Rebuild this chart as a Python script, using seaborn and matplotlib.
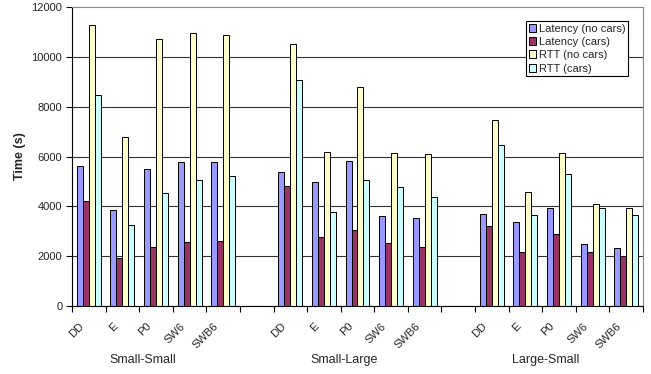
#grouped bar chart: latency and RTT per protocol, three scenarios
import numpy as np
import pandas as pd
import matplotlib
matplotlib.use("Agg")
import matplotlib.pyplot as plt
import seaborn as sns

# data
groups = ["Small-Small", "Small-Large", "Large-Small"]
protocols = ["DD", "E", "P0", "SW6", "SWB6"]
series = ["Latency (no cars)", "Latency (cars)", "RTT (no cars)", "RTT (cars)"]

lat_nocars = [5620, 3840, 5490, 5790, 5770,
              5360, 4960, 5810, 3600, 3520,
              3710, 3360, 3950, 2490, 2320]
lat_cars = [4220, 1940, 2360, 2580, 2610,
            4820, 2760, 3070, 2520, 2380,
            3230, 2180, 2890, 2160, 2010]
rtt_nocars = [11280, 6780, 10700, 10940, 10860,
              10530, 6170, 8770, 6160, 6120,
              7450, 4580, 6130, 4080, 3950]
rtt_cars = [8450, 3240, 4530, 5060, 5200,
            9090, 3760, 5060, 4770, 4370,
            6480, 3660, 5290, 3950, 3660]

colors = ["#9999FF", "#993366", "#FFFFCC", "#CCFFFF"]

# one slot per protocol, with an empty slot between scenarios
order = []
for i, g in enumerate(groups):
    if i > 0:
        order.append("gap%d" % i)
    for p in protocols:
        order.append(g + "|" + p)

slots = [g + "|" + p for g in groups for p in protocols]
rows = []
for name, vals in zip(series, [lat_nocars, lat_cars, rtt_nocars, rtt_cars]):
    for s, v in zip(slots, vals):
        rows.append({"slot": s, "series": name, "time": v})
df = pd.DataFrame(rows)

sns.set_theme(style="white")
plt.rcParams["font.family"] = ["Liberation Sans", "DejaVu Sans"]

fig = plt.figure(figsize=(6.51, 3.74), dpi=100)
ax = fig.add_axes([0.1106, 0.1818, 0.8771, 0.7995])

sns.barplot(data=df, x="slot", y="time", hue="series", order=order,
            hue_order=series, palette=colors, saturation=1, width=0.714,
            errorbar=None, edgecolor="black", linewidth=0.7, ax=ax)

ax.set_xlim(-0.5, len(order) - 0.5)
ax.set_ylim(0, 12000)
ax.set_yticks(np.arange(0, 12001, 2000))
ax.set_ylabel("Time (s)", fontsize=9, fontweight="bold", labelpad=4)
ax.set_xlabel("")

# tick marks on slot boundaries, labels under the bars
ax.set_xticks(np.arange(-0.5, len(order), 1))
ax.set_xticklabels([])
centers = [i - 0.08 for i, o in enumerate(order) if not o.startswith("gap")]
ax.set_xticks(centers, minor=True)
ax.set_xticklabels(protocols * 3, minor=True, rotation=45, ha="right", fontsize=8)
ax.tick_params(axis="x", which="major", direction="out", length=4, width=0.8, color="black", bottom=True)
ax.tick_params(axis="x", which="minor", length=0, pad=11)
ax.tick_params(axis="y", direction="out", length=4, width=0.8, color="black", left=True, labelsize=8, pad=3)

ax.yaxis.grid(True, color="#333333", linewidth=0.8)
ax.set_axisbelow(True)
ax.yaxis.get_gridlines()[-1].set_visible(False)

for side in ["left", "bottom"]:
    ax.spines[side].set_color("black")
    ax.spines[side].set_linewidth(0.8)
for side in ["top", "right"]:
    ax.spines[side].set_color("#888888")
    ax.spines[side].set_linewidth(0.8)

# scenario names under each block
for i, g in enumerate(groups):
    ax.text(i * 6 + 1.6, -0.182, g, transform=ax.get_xaxis_transform(),
            ha="center", va="center", fontsize=9)

handles, labels = ax.get_legend_handles_labels()
ax.legend(handles, labels, loc="upper right", bbox_to_anchor=(0.9737, 0.954),
          fontsize=8, frameon=True, fancybox=False, edgecolor="black", framealpha=1,
          handlelength=0.7, handleheight=0.7, handletextpad=0.2,
          labelspacing=0.3, borderpad=0.25, borderaxespad=0)
ax.get_legend().get_frame().set_linewidth(0.8)

plt.savefig("out.png", dpi=100)
